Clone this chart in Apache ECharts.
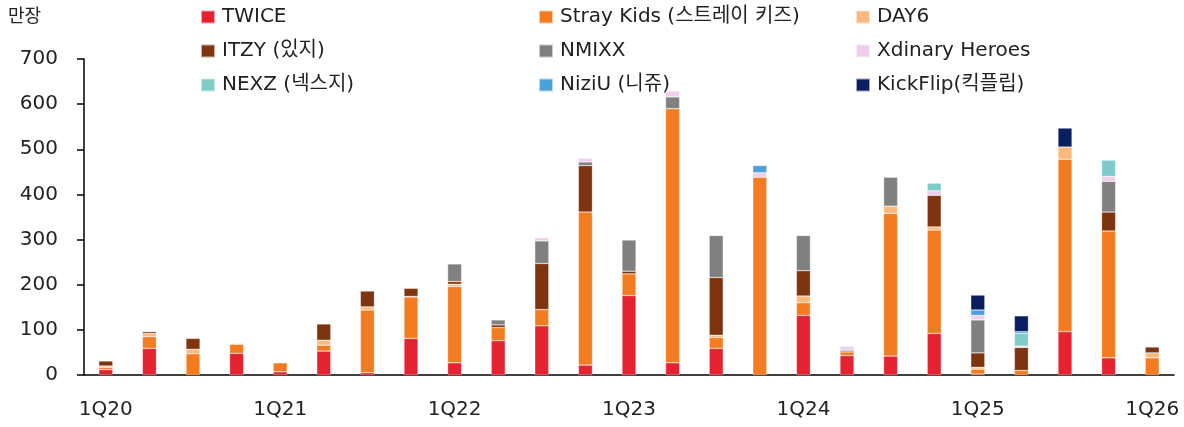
<!DOCTYPE html>
<html>
<head>
<meta charset="utf-8">
<script src="https://cdn.jsdelivr.net/npm/echarts@6/dist/echarts.min.js"></script>
<style>
  html, body { margin: 0; padding: 0; background: #fff; }
  #chart { width: 1184px; height: 427px; }
</style>
</head>
<body>
<div id="chart"></div>
<script>
// 분기
const quarters = [
  "1Q20", "2Q20", "3Q20", "4Q20",
  "1Q21", "2Q21", "3Q21", "4Q21",
  "1Q22", "2Q22", "3Q22", "4Q22",
  "1Q23", "2Q23", "3Q23", "4Q23",
  "1Q24", "2Q24", "3Q24", "4Q24",
  "1Q25", "2Q25", "3Q25", "4Q25",
  "1Q26"
];

// 아티스트별 앨범 판매량 (만장)
const twice     = [12, 59, 0, 48, 7, 53, 5, 81, 27, 76, 109, 22, 176, 27, 59, 0, 132, 43, 42, 92, 2, 0, 96, 38, 0];
const strayKids = [5, 26, 47, 20, 20, 13, 139, 92, 169, 29, 36, 339, 48, 563, 24, 438, 28, 8, 316, 229, 11, 10, 382, 281, 38];
const day6      = [3, 7, 10, 2, 1, 11, 7, 1, 5, 0, 0, 0, 0, 0, 5, 0, 15, 0, 16, 7, 4, 0, 27, 0, 11];
const itzy      = [11, 4, 24, 0, 0, 36, 35, 18, 6, 6, 102, 103, 6, 0, 128, 0, 56, 0, 0, 70, 32, 51, 0, 42, 13];
const nmixx     = [0, 0, 0, 0, 0, 0, 0, 0, 39, 11, 50, 8, 69, 26, 93, 0, 78, 4, 64, 0, 73, 0, 0, 68, 0];
const xdinary   = [0, 0, 0, 0, 0, 0, 0, 0, 0, 0, 7, 8, 0, 13, 0, 10, 0, 9, 0, 10, 10, 3, 0, 11, 0];
const nexz      = [0, 0, 0, 0, 0, 0, 0, 0, 0, 0, 0, 0, 0, 0, 0, 0, 0, 0, 0, 17, 0, 28, 0, 36, 0];
const niziu     = [0, 0, 0, 0, 0, 0, 0, 0, 0, 0, 0, 0, 0, 0, 0, 16, 0, 0, 0, 0, 12, 4, 0, 0, 0];
const kickflip  = [0, 0, 0, 0, 0, 0, 0, 0, 0, 0, 0, 0, 0, 0, 0, 0, 0, 0, 0, 0, 33, 35, 42, 0, 0];

const yTicks = [0, 100, 200, 300, 400, 500, 600, 700];

const groups = [
  { name: "TWICE", data: twice, color: "#E42230" },
  { name: "Stray Kids (스트레이 키즈)", data: strayKids, color: "#F47C20" },
  { name: "DAY6", data: day6, color: "#FDB97D" },
  { name: "ITZY (있지)", data: itzy, color: "#7F3410" },
  { name: "NMIXX", data: nmixx, color: "#808080" },
  { name: "Xdinary Heroes", data: xdinary, color: "#F2CDEB" },
  { name: "NEXZ (넥스지)", data: nexz, color: "#7ECBC7" },
  { name: "NiziU (니쥬)", data: niziu, color: "#4EA0DA" },
  { name: "KickFlip(킥플립)", data: kickflip, color: "#0A1F60" }
];

const FONT = "'DejaVu Sans', 'Noto Sans CJK KR', sans-serif";

function legendColumn(names, left) {
  return {
    orient: "vertical",
    left: left,
    top: 7,
    padding: 0,
    itemWidth: 14,
    itemHeight: 13,
    itemGap: 14,
    icon: "rect",
    data: names,
    textStyle: { fontFamily: FONT, fontSize: 20, color: "#222", lineHeight: 20, padding: [0, 0, 0, 2] },
    selectedMode: false
  };
}

const chart = echarts.init(document.getElementById("chart"));
chart.setOption({
  animation: false,
  textStyle: { fontFamily: FONT },
  grid: { left: 84, right: 10, top: 59, bottom: 52 },
  legend: [
    legendColumn([groups[0].name, groups[3].name, groups[6].name], 200),
    legendColumn([groups[1].name, groups[4].name, groups[7].name], 538),
    legendColumn([groups[2].name, groups[5].name, groups[8].name], 855)
  ],
  graphic: [
    { type: "text", left: 8, top: 8, style: { text: "만장", fontSize: 18, fontFamily: FONT, fill: "#222" } }
  ],
  xAxis: {
    type: "category",
    data: quarters,
    boundaryGap: true,
    axisLine: { lineStyle: { color: "#000", width: 1.5 } },
    axisTick: { interval: 3, length: 8, lineStyle: { color: "#000", width: 1.5 } },
    axisLabel: { interval: 3, margin: 25, fontSize: 20, color: "#222", fontFamily: FONT }
  },
  yAxis: {
    type: "value",
    min: yTicks[0],
    max: yTicks[yTicks.length - 1],
    interval: 100,
    splitLine: { show: false },
    axisLine: { show: true, lineStyle: { color: "#000", width: 1.5 } },
    axisTick: { show: true, length: 7, lineStyle: { color: "#000", width: 1.5 } },
    axisLabel: { margin: 26, fontSize: 20, color: "#222", fontFamily: FONT }
  },
  series: groups.map(g => ({
    name: g.name,
    type: "bar",
    stack: "total",
    barWidth: 14,
    data: g.data.map(v => (v === 0 ? null : v)),
    itemStyle: { color: g.color, borderColor: "rgba(255,255,255,0.6)", borderWidth: 0.5 }
  }))
});
</script>
</body>
</html>
